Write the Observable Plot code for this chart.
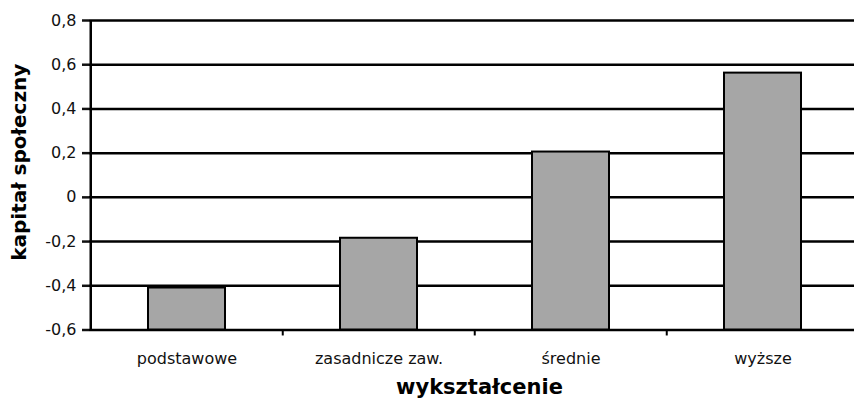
<!DOCTYPE html>
<html>
<head>
<meta charset="utf-8">
<script src="https://cdn.jsdelivr.net/npm/d3@7"></script>
<script src="https://cdn.jsdelivr.net/npm/@observablehq/plot@0.6"></script>
<style>
  html, body { margin: 0; padding: 0; background: #fff; }
</style>
</head>
<body>
<div id="chart"></div>
<script>
const categories = ["podstawowe", "zasadnicze zaw.", "średnie", "wyższe"];
const values = [-0.41, -0.185, 0.205, 0.562];
const yTicks = [-0.6, -0.4, -0.2, 0, 0.2, 0.4, 0.6, 0.8];
const yTickLabels = ["-0,6", "-0,4", "-0,2", "0", "0,2", "0,4", "0,6", "0,8"];
const baseline = -0.6;
const yTitle = "kapitał społeczny";
const xTitle = "wykształcenie";

const data = categories.map((c, i) => ({category: c, value: values[i]}));

const chart = Plot.plot({
  width: 854,
  height: 405,
  marginTop: 20,
  marginBottom: 75.5,
  marginLeft: 89,
  marginRight: -5,
  style: {fontFamily: "DejaVu Sans", fontSize: "16px", color: "#111", background: "#fff"},
  x: {domain: categories, paddingInner: 0.6, paddingOuter: 0.3, label: null},
  y: {domain: [-0.6, 0.8], label: null},
  marks: [
    Plot.ruleY(yTicks, {stroke: "#000", strokeWidth: 2.5}),
    Plot.barY(data, {x: "category", y1: baseline, y2: "value", fill: "#a6a6a6", stroke: "#000", strokeWidth: 2}),
    Plot.ruleX([categories[0]], {y1: -0.6, y2: 0.8, dx: -96.25, stroke: "#000", strokeWidth: 2.5}),
    Plot.ruleX(categories.slice(1), {y1: -0.6, y2: -0.627, dx: -96.25, stroke: "#000", strokeWidth: 2}),
    Plot.axisY(yTicks, {tickSize: 7, tickPadding: 6, strokeWidth: 2.5, tickFormat: d => yTickLabels[yTicks.indexOf(d)]}),
    Plot.axisX({tickSize: 0, tickPadding: 23}),
    Plot.text([yTitle], {frameAnchor: "left", textAnchor: "middle", rotate: -90, dx: -70, dy: -13, fontWeight: "bold", fontSize: 20, fill: "#000"}),
    Plot.text([xTitle], {frameAnchor: "bottom", textAnchor: "middle", dy: 64, dx: 5, fontWeight: "bold", fontSize: 21, fill: "#000"})
  ]
});
document.getElementById("chart").appendChild(chart);
</script>
</body>
</html>
